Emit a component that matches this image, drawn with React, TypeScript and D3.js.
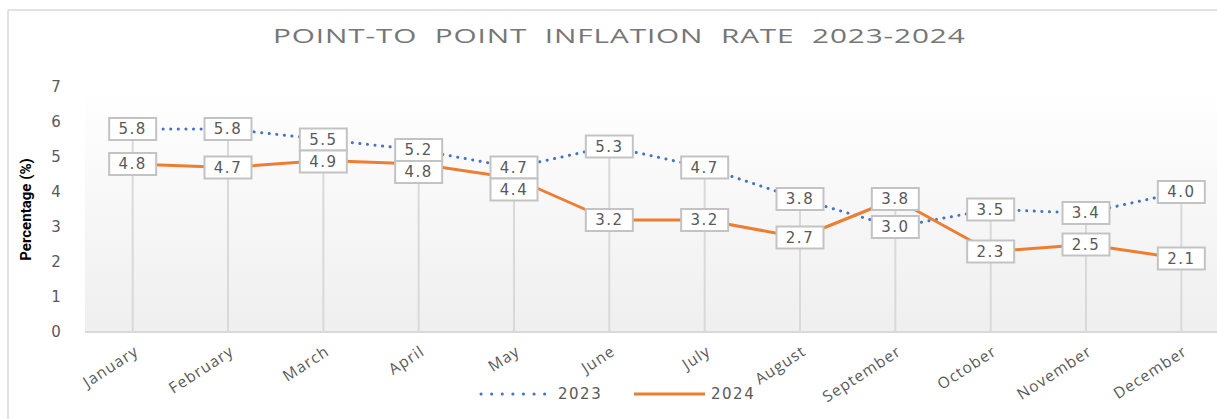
import { useEffect, useRef } from 'react';
import * as d3 from 'd3';

const months = [
  'January', 'February', 'March', 'April', 'May', 'June',
  'July', 'August', 'September', 'October', 'November', 'December',
];
const values2023 = [5.8, 5.8, 5.5, 5.2, 4.7, 5.3, 4.7, 3.8, 3.0, 3.5, 3.4, 4.0];
const values2024 = [4.8, 4.7, 4.9, 4.8, 4.4, 3.2, 3.2, 2.7, 3.8, 2.3, 2.5, 2.1];
const yTicks = [0, 1, 2, 3, 4, 5, 6, 7];
const seriesNames = ['2023', '2024'];

const W = 1217;
const H = 419;
const BLUE = '#4472C4';
const ORANGE = '#ED7D31';
const TEXT = '#595959';
const BOX_W = 47;
const BOX_H = 22;
const FONT = '"DejaVu Sans", "Open Sans", sans-serif';

export default function App() {
  const titleRef = useRef<SVGTextElement>(null);

  // the title in the original is stretched sideways: scale it to its width
  useEffect(() => {
    if (!titleRef.current) return;
    const len = titleRef.current.getBBox().width;
    if (len > 0) {
      d3.select(titleRef.current).attr('transform', `translate(273,43) scale(${693 / len},1)`);
    }
  }, []);

  const x = d3.scaleBand<string>().domain(months).range([85, 1229]).padding(0);
  const cx = (m: string) => (x(m) ?? 0) + x.bandwidth() / 2;
  const y = d3.scaleLinear().domain([0, 7]).range([332, 87]);

  const line = d3
    .line<number>()
    .x((_, i) => cx(months[i]))
    .y((d) => y(d));

  // label placement: centred on the point, lower box pushed down if they collide
  const labels = months.map((m, i) => {
    const a = y(values2023[i]);
    const b = y(values2024[i]);
    let la = a;
    let lb = b;
    if (Math.abs(a - b) < BOX_H) {
      if (a <= b) lb = a + BOX_H;
      else la = b + BOX_H;
    }
    return { m, la, lb };
  });

  const box = (key: string, px: number, py: number, v: number) => (
    <g key={key} transform={`translate(${px},${py})`}>
      <rect x={-BOX_W / 2} y={-BOX_H / 2} width={BOX_W} height={BOX_H} fill="#fff" stroke="#c3c3c3" strokeWidth={2} />
      <text textAnchor="middle" dy="0.36em" fontSize={15} fill={TEXT} letterSpacing={1.5} fontFamily={FONT}>
        {v.toFixed(1)}
      </text>
    </g>
  );

  return (
    <div style={{ position: 'absolute', left: 0, top: 0 }}>
      <svg width={W} height={H} style={{ display: 'block', background: '#fff' }}>
        <defs>
          <linearGradient id="plotbg" x1="0" y1="0" x2="0" y2="1">
            <stop offset="0%" stopColor="#ffffff" />
            <stop offset="100%" stopColor="#efefef" />
          </linearGradient>
        </defs>
        {/* chart frame */}
        <line x1={8} y1={10} x2={W} y2={10} stroke="#d9d9d9" strokeWidth={1.5} />
        <line x1={8} y1={10} x2={8} y2={H} stroke="#d9d9d9" strokeWidth={1.5} />

        <text ref={titleRef} transform="translate(273,43)" fontSize={20} fill="#767676" letterSpacing={0.6}
          wordSpacing={6} fontFamily='"Open Sans", sans-serif'>
          POINT-TO POINT INFLATION RATE 2023-2024
        </text>

        <rect x={85} y={y(7)} width={W - 85} height={y(0) - y(7)} fill="url(#plotbg)" />

        {/* y axis labels */}
        {yTicks.map((t) => (
          <text key={t} x={56} y={y(t)} dy="0.36em" textAnchor="middle" fontSize={15} fill={TEXT} fontFamily={FONT}>
            {t}
          </text>
        ))}
        <text transform={`translate(31,${y(3.5)}) rotate(-90)`} textAnchor="middle" fontSize={15} fontWeight="bold"
          fill="#000" fontFamily='"Liberation Sans Narrow", "Roboto", sans-serif'>
          Percentage (%)
        </text>

        {/* drop lines */}
        {months.map((m, i) => (
          <line key={m} x1={cx(m)} x2={cx(m)} y1={y(Math.max(values2023[i], values2024[i]))} y2={y(0)}
            stroke="#d9d9d9" strokeWidth={2} />
        ))}
        <line x1={85} x2={W} y1={y(0)} y2={y(0)} stroke="#d9d9d9" strokeWidth={2} />

        {/* x axis labels */}
        {months.map((m) => (
          <text key={m} transform={`translate(${cx(m) + 7},${y(0) + 22}) rotate(-33)`} textAnchor="end"
            fontSize={15.5} fill={TEXT} letterSpacing={1.1} fontFamily='"Open Sans", sans-serif'>
            {m}
          </text>
        ))}

        {/* series */}
        <path d={line(values2023) ?? ''} fill="none" stroke={BLUE} strokeWidth={3} strokeDasharray="0.1 7.5"
          strokeLinecap="round" />
        <path d={line(values2024) ?? ''} fill="none" stroke={ORANGE} strokeWidth={3} strokeLinejoin="round" />

        {labels.map((l, i) => box(`a${i}`, cx(l.m), l.la, values2023[i]))}
        {labels.map((l, i) => box(`b${i}`, cx(l.m), l.lb, values2024[i]))}

        {/* legend */}
        <line x1={481} x2={545} y1={394} y2={394} stroke={BLUE} strokeWidth={3} strokeDasharray="0.1 10.5"
          strokeLinecap="round" />
        <text x={558} y={394} dy="0.36em" fontSize={15} fill={TEXT} letterSpacing={1.5} fontFamily={FONT}>
          {seriesNames[0]}
        </text>
        <line x1={634} x2={705} y1={394} y2={394} stroke={ORANGE} strokeWidth={3} />
        <text x={711} y={394} dy="0.36em" fontSize={15} fill={TEXT} letterSpacing={1.5} fontFamily={FONT}>
          {seriesNames[1]}
        </text>
      </svg>
    </div>
  );
}
